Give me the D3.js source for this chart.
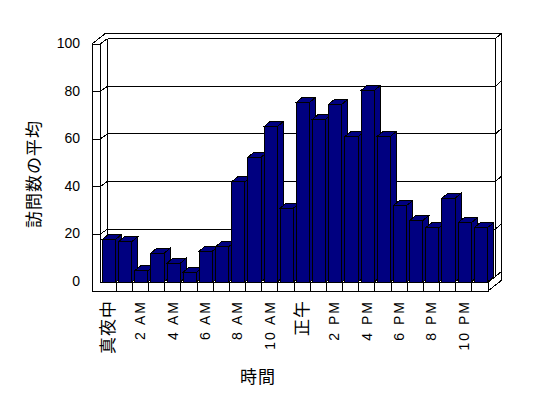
<!DOCTYPE html>
<html>
<head>
<meta charset="utf-8">
<script src="https://cdn.jsdelivr.net/npm/d3@7"></script>
<style>
  body { margin: 0; background: #fff; }
  svg text { fill: #000; }
</style>
</head>
<body>
<div id="chart"></div>
<script>
const hours = ["真夜中", "1 AM", "2 AM", "3 AM", "4 AM", "5 AM", "6 AM", "7 AM", "8 AM", "9 AM", "10 AM", "11 AM",
    "正午", "1 PM", "2 PM", "3 PM", "4 PM", "5 PM", "6 PM", "7 PM", "8 PM", "9 PM", "10 PM", "11 PM"];
const visits = [17.9, 16.9, 4.7, 12.1, 7.9, 4.1, 13.0, 14.8, 42.1, 52.4, 65.3, 31.0,
    75.5, 68.4, 74.7, 61.1, 80.5, 61.2, 32.1, 25.8, 22.8, 35.2, 24.9, 22.8];
const yTicks = [0, 20, 40, 60, 80, 100];
const yTitle = "訪問数の平均";
const xTitle = "時間";

const cfg = {
    width: 548, height: 398,
    left: 100, right: 488, bottom: 282, top: 44,
    wallOuter: 92, floorBottom: 291,
    wall: [7.5, -5.4],     // back wall inner face offset
    outer: [13.5, -10.7],  // outer back offset
    bar: [6, -5],          // bar depth
    barColor: "#000080",
    latin: "'Liberation Sans', Arial, sans-serif",
    cjk: "'Noto Sans CJK JP', sans-serif"
};

const svg = d3.select("#chart").append("svg")
    .attr("width", cfg.width).attr("height", cfg.height)
    .attr("shape-rendering", "crispEdges");

const x = d3.scaleBand().domain(d3.range(hours.length)).range([cfg.left, cfg.right]).padding(0);
const y = d3.scaleLinear().domain([0, 100]).range([cfg.bottom, cfg.top]);

const line = (g, x1, y1, x2, y2) => g.append("line")
    .attr("x1", x1).attr("y1", y1).attr("x2", x2).attr("y2", y2)
    .attr("stroke", "#000").attr("stroke-width", 1);

function drawWalls() {
    const g = svg.append("g");
    const [wx, wy] = cfg.wall, [ox, oy] = cfg.outer;
    const yTop = y(100);
    // left wall + floor front faces
    g.append("path")
        .attr("d", `M${cfg.wallOuter},${yTop}H${cfg.left}V${cfg.bottom}H${cfg.right}V${cfg.floorBottom}H${cfg.wallOuter}Z`)
        .attr("fill", "#fff").attr("stroke", "#000");
    // top edges
    line(g, cfg.wallOuter, yTop, cfg.wallOuter + ox, yTop + oy);
    line(g, cfg.left, yTop, cfg.left + wx, yTop + wy);
    line(g, cfg.wallOuter + ox, yTop + oy, cfg.right + ox, yTop + oy);
    line(g, cfg.left + wx, yTop + wy, cfg.right + wx, yTop + wy);
    line(g, cfg.right + wx, yTop + wy, cfg.right + ox, yTop + oy);
    // back wall verticals
    line(g, cfg.left + wx, yTop + wy, cfg.left + wx, cfg.bottom + wy);
    line(g, cfg.right + wx, yTop + wy, cfg.right + wx, cfg.bottom + wy);
    line(g, cfg.right + ox, yTop + oy, cfg.right + ox, cfg.floorBottom + oy);
    // floor right side
    line(g, cfg.right, cfg.floorBottom, cfg.right + ox, cfg.floorBottom + oy);
    line(g, cfg.right, cfg.bottom, cfg.right + wx, cfg.bottom + wy);
    line(g, cfg.right + wx, cfg.bottom + wy, cfg.right + ox, cfg.bottom + oy);

    // gridlines
    yTicks.filter(v => v > 0 && v < 100).forEach(v => {
        const yy = y(v);
        line(g, cfg.wallOuter, yy, cfg.left, yy);
        line(g, cfg.left, yy, cfg.left + wx, yy + wy);
        line(g, cfg.left + wx, yy + wy, cfg.right + wx, yy + wy);
        line(g, cfg.right + wx, yy + wy, cfg.right + ox, yy + oy);
    });
    // floor dividers
    x.domain().slice(1).forEach(i => line(g, x(i), cfg.bottom, x(i), cfg.floorBottom));
}

function drawBars() {
    const [dx, dy] = cfg.bar;
    const bw = x.bandwidth() * 0.82, off = x.bandwidth() * 0.145;
    const bars = svg.append("g").selectAll("g")
        .data(visits).enter().append("g")
        .attr("fill", cfg.barColor).attr("stroke", "#000");
    bars.each(function (v, i) {
        const g = d3.select(this);
        const x0 = x(i) + off, x1 = x0 + bw, yt = y(v), yb = y(0);
        g.append("polygon").attr("points", [[x1, yt], [x1 + dx, yt + dy], [x1 + dx, yb + dy], [x1, yb]].join(" "));
        g.append("polygon").attr("points", [[x0, yt], [x0 + dx, yt + dy], [x1 + dx, yt + dy], [x1, yt]].join(" "));
        g.append("rect").attr("x", x0).attr("y", yt).attr("width", bw).attr("height", yb - yt);
    });
}

function drawLabels() {
    svg.append("g").selectAll("text")
        .data(yTicks).enter().append("text")
        .attr("x", 80).attr("y", d => y(d) - 1).attr("dy", "0.36em")
        .attr("text-anchor", "end")
        .style("font-family", cfg.latin).style("font-size", "14px")
        .text(d => d);

    const isCjk = s => /[^\x00-\x7f]/.test(s);
    svg.append("g").selectAll("text")
        .data(hours.map((h, i) => ({ h, i })).filter(d => d.i % 2 === 0)).enter().append("text")
        .attr("transform", d => `translate(${x(d.i) + x.bandwidth() / 2},300) rotate(-90)`)
        .attr("dy", "0.36em")
        .attr("text-anchor", "end")
        .style("font-family", d => isCjk(d.h) ? cfg.cjk : cfg.latin)
        .style("font-size", d => isCjk(d.h) ? "17px" : "14px")
        .style("letter-spacing", d => isCjk(d.h) ? "1px" : "2px")
        .text(d => d.h);

    svg.append("text")
        .attr("transform", "translate(34,174) rotate(-90)")
        .attr("dy", "0.36em").attr("text-anchor", "middle")
        .style("font-family", cfg.cjk).style("font-size", "17px").style("letter-spacing", "1px")
        .text(yTitle);

    svg.append("text")
        .attr("x", 258).attr("y", 377).attr("dy", "0.36em").attr("text-anchor", "middle")
        .style("font-family", cfg.cjk).style("font-size", "17px").style("letter-spacing", "1px")
        .text(xTitle);
}

drawWalls();
drawBars();
drawLabels();
</script>
</body>
</html>
